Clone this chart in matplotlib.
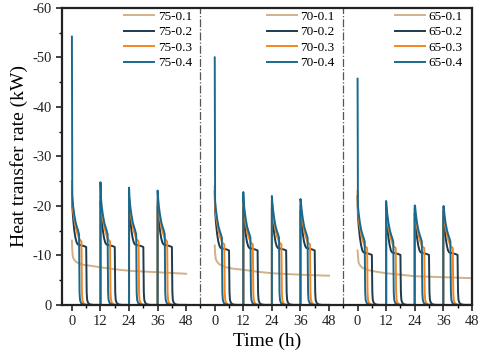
import numpy as np
import matplotlib
matplotlib.use('Agg')
import matplotlib.pyplot as plt
from matplotlib.ticker import MultipleLocator, FuncFormatter

plt.rcParams['font.family'] = ['Liberation Serif', 'DejaVu Serif']
plt.rcParams['axes.unicode_minus'] = False

# panels (inlet temperature) and series (flow rate)
panels = ['75', '70', '65']
series = ['0.1', '0.2', '0.3', '0.4']
colors = {'0.1': '#d2b08a', '0.2': '#1e3a4d', '0.3': '#f5861f', '0.4': '#19698f'}
cycle_starts = [0, 12, 24, 36]
panel_offset = 60

# 0.1 : one continuous decaying curve per panel (kW, shown negative)
t_01 = [0, 0.15, 0.4, 1, 2, 4.7, 8, 12, 18, 24, 36, 48]
q_01 = {
    '75': [13, 11.0, 9.7, 9.1, 8.6, 8.1, 7.9, 7.6, 7.2, 6.9, 6.6, 6.3],
    '70': [12, 10.5, 9.3, 8.7, 8.2, 7.6, 7.3, 7.1, 6.7, 6.4, 6.1, 5.9],
    '65': [11, 10.0, 8.6, 8.0, 7.5, 7.0, 6.7, 6.4, 6.1, 5.8, 5.6, 5.4],
}

# cycle profiles (time within 12 h cycle, kW); first value is replaced by the cycle peak
t_cyc = {
    '0.2': [0, 0.15, 0.5, 1.0, 1.5, 2.0, 2.5, 5.0, 6.0, 6.1, 6.2, 6.4, 6.8, 7.6, 9.0, 12],
    '0.3': [0, 0.15, 0.5, 1.0, 1.6, 2.2, 2.8, 3.0, 4.0, 4.1, 4.2, 4.4, 4.8, 5.6, 7.0, 12],
    '0.4': [0, 0.15, 0.5, 1.0, 1.6, 2.2, 2.5, 2.8, 3.0, 3.1, 3.2, 3.4, 3.8, 4.6, 6.0, 12],
}
q_cyc = {
    '75': {
        '0.2': [0, 20.0, 17.5, 15.0, 13.5, 12.6, 12.2, 11.9, 11.7, 7.0, 2.5, 1.0, 0.4, 0.1, 0, 0],
        '0.3': [0, 21.0, 19.0, 17.3, 15.8, 14.6, 13.7, 13.4, 12.8, 8.0, 2.5, 1.0, 0.4, 0.1, 0, 0],
        '0.4': [0, 22.0, 20.0, 18.2, 16.6, 15.6, 15.2, 14.6, 14.3, 8.0, 2.5, 1.0, 0.4, 0.1, 0, 0],
    },
    '70': {
        '0.2': [0, 19.0, 16.7, 14.3, 12.8, 11.9, 11.5, 11.2, 11.0, 6.5, 2.5, 1.0, 0.4, 0.1, 0, 0],
        '0.3': [0, 20.0, 18.2, 16.5, 15.0, 13.8, 13.0, 12.7, 12.2, 7.5, 2.5, 1.0, 0.4, 0.1, 0, 0],
        '0.4': [0, 21.0, 19.2, 17.4, 15.8, 14.8, 14.4, 13.9, 13.6, 7.5, 2.5, 1.0, 0.4, 0.1, 0, 0],
    },
    '65': {
        '0.2': [0, 18.0, 15.8, 13.5, 12.0, 11.0, 10.6, 10.3, 10.1, 6.0, 2.5, 1.0, 0.4, 0.1, 0, 0],
        '0.3': [0, 19.0, 17.2, 15.6, 14.2, 13.0, 12.2, 11.9, 11.5, 7.0, 2.5, 1.0, 0.4, 0.1, 0, 0],
        '0.4': [0, 20.0, 18.3, 16.5, 15.0, 14.0, 13.6, 13.1, 12.8, 7.0, 2.5, 1.0, 0.4, 0.1, 0, 0],
    },
}

# peak at each cycle start (kW)
peaks = {
    '75': {'0.2': [24, 21.0, 20.5, 20.0], '0.3': [25, 22.0, 21.5, 21.0], '0.4': [54.2, 24.8, 23.7, 23.1]},
    '70': {'0.2': [23, 20.0, 19.5, 19.0], '0.3': [24, 21.0, 20.5, 20.0], '0.4': [50.0, 22.8, 22.0, 21.4]},
    '65': {'0.2': [22, 19.0, 18.5, 18.0], '0.3': [23, 20.0, 19.5, 19.0], '0.4': [45.7, 21.0, 20.1, 19.6]},
}

fig = plt.figure(figsize=(4.8, 3.6), dpi=100)
ax = fig.add_axes([0.129, 0.153, 0.854, 0.825])

legends = []
for i, p in enumerate(panels):
    off = i * panel_offset
    handles = []
    h, = ax.plot(np.array(t_01) + off, -np.array(q_01[p]), color=colors['0.1'], lw=1.4,
                 label=p + '-0.1')
    handles.append(h)
    for s in ['0.2', '0.3', '0.4']:
        xs, ys = [], []
        for c, t0 in enumerate(cycle_starts):
            q = list(q_cyc[p][s])
            q[0] = peaks[p][s][c]
            xs += [off + t0 + t for t in t_cyc[s]]
            ys += [-v for v in q]
        h, = ax.plot(xs, ys, color=colors[s], lw=1.4, label=p + '-' + s)
        handles.append(h)
    legends.append(handles)

for xd in [54, 114]:
    ax.axvline(xd, color='#555555', lw=0.9, ls='-.')

ax.set_xlim(-4.2, 168)
ax.set_ylim(0, -60)
ax.xaxis.set_major_locator(MultipleLocator(12))
ax.xaxis.set_minor_locator(MultipleLocator(6))
ax.xaxis.set_major_formatter(FuncFormatter(lambda v, pos: '%d' % (round(v) % 60)))
ax.yaxis.set_major_locator(MultipleLocator(10))
ax.yaxis.set_minor_locator(MultipleLocator(5))
ax.tick_params(which='major', direction='out', length=4, width=1.2, labelsize=10.5, colors='#222222')
ax.tick_params(which='minor', direction='out', length=2.5, width=1.0)
for sp in ax.spines.values():
    sp.set_linewidth(1.6)
    sp.set_color('#222222')

ax.set_xlabel('Time (h)', fontsize=14, labelpad=3)
ax.set_ylabel('Heat transfer rate (kW)', fontsize=14, labelpad=3)

anchors = [0.327, 0.675, 0.988]
for i, handles in enumerate(legends):
    leg = ax.legend(handles=handles, loc='upper right', bbox_to_anchor=(anchors[i], 1.005),
                    frameon=False, fontsize=9.5, handlelength=2.3, handletextpad=0.25,
                    labelspacing=0.25, borderaxespad=0.2, borderpad=0.1)
    if i < len(legends) - 1:
        ax.add_artist(leg)

fig.savefig('out.png', dpi=100)
